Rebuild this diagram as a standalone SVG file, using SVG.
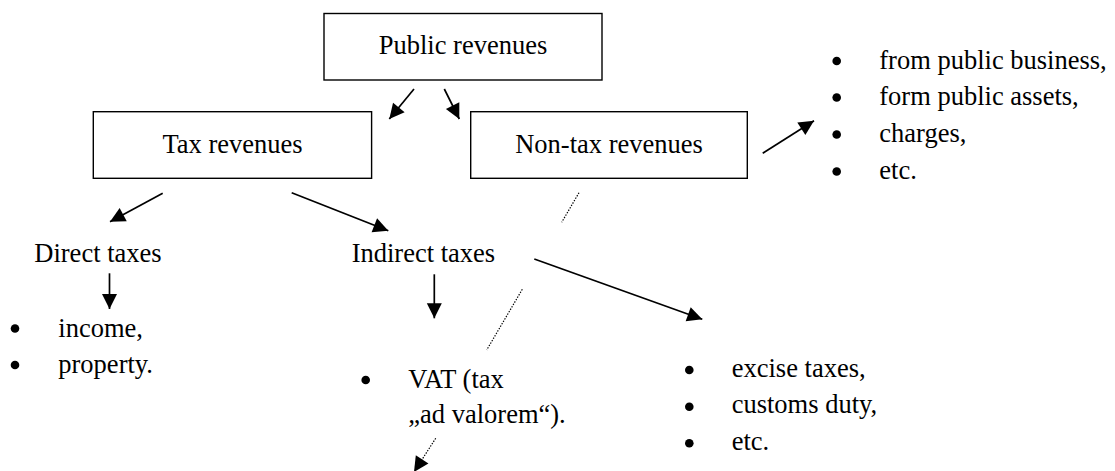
<svg xmlns="http://www.w3.org/2000/svg" width="1115" height="471" viewBox="0 0 1115 471">
<style>
text{font-family:"Liberation Serif","Times New Roman",serif;font-size:26.5px;fill:#000}
.box{fill:#fff;stroke:#000;stroke-width:1.4}
.c{text-anchor:middle}
.ar{stroke:#000;stroke-width:1.7;fill:none;marker-end:url(#ah)}
.dot{stroke:#000;stroke-width:1.2;fill:none;stroke-dasharray:1.4 1.4}
.dar{stroke:#000;stroke-width:1.2;fill:none;stroke-dasharray:1.4 1.4;marker-end:url(#ah)}
.b{fill:#000}
</style>
<defs>
<marker id="ah" markerUnits="userSpaceOnUse" markerWidth="16" markerHeight="16" refX="15" refY="7.5" orient="auto" overflow="visible">
<path d="M0,0 L15,7.5 L0,15 z" fill="#000"/>
</marker>
</defs>
<rect width="1115" height="471" fill="#fff"/>
<g id="connectors">
<line class="ar" x1="414" y1="89" x2="389.3" y2="119"/>
<line class="ar" x1="444.3" y1="89" x2="459.3" y2="119"/>
<line class="ar" x1="762.7" y1="153.3" x2="814" y2="120.7"/>
<line class="ar" x1="162.7" y1="193.3" x2="110" y2="221.7"/>
<line class="ar" x1="291.7" y1="192.7" x2="388.3" y2="230.7"/>
<line class="ar" x1="109.5" y1="273.3" x2="109.5" y2="309"/>
<line class="ar" x1="434.3" y1="274.3" x2="434.3" y2="318.3"/>
<line class="ar" x1="534.3" y1="259" x2="702.3" y2="319.3"/>
<line class="dot" x1="579" y1="192.7" x2="561.7" y2="222.3"/>
<line class="dot" x1="522.3" y1="289.3" x2="486.7" y2="350"/>
<line class="dar" x1="435.7" y1="438.3" x2="414" y2="472"/>
</g>
<g id="public-revenues">
<rect class="box" x="324" y="13.5" width="278" height="66.5"/>
<text class="c" x="463" y="54">Public revenues</text>
</g>
<g id="tax-revenues">
<rect class="box" x="93.3" y="111.7" width="278.3" height="66.6"/>
<text class="c" x="232.5" y="152.5">Tax revenues</text>
</g>
<g id="non-tax-revenues">
<rect class="box" x="470.7" y="111.7" width="276.6" height="66.6"/>
<text class="c" x="609" y="152.5">Non-tax revenues</text>
</g>
<g id="non-tax-list">
<circle class="b" cx="836.7" cy="61" r="4.3"/>
<text x="879.3" y="68.5">from public business,</text>
<circle class="b" cx="836.7" cy="97.5" r="4.3"/>
<text x="879.3" y="105">form public assets,</text>
<circle class="b" cx="836.7" cy="134.5" r="4.3"/>
<text x="879.3" y="142">charges,</text>
<circle class="b" cx="836.7" cy="171.5" r="4.3"/>
<text x="879.3" y="179">etc.</text>
</g>
<g id="direct-taxes">
<text x="34.3" y="262.3">Direct taxes</text>
</g>
<g id="direct-list">
<circle class="b" cx="15" cy="328.5" r="4.3"/>
<text x="58.3" y="336.7">income,</text>
<circle class="b" cx="15" cy="365" r="4.3"/>
<text x="58.3" y="373.3">property.</text>
</g>
<g id="indirect-taxes">
<text x="351.7" y="261.7">Indirect taxes</text>
</g>
<g id="vat">
<circle class="b" cx="365.7" cy="380" r="4.3"/>
<text x="408.3" y="388.3">VAT (tax</text>
<text x="408.3" y="423.3">„ad valorem“).</text>
</g>
<g id="excise-list">
<circle class="b" cx="689.3" cy="370" r="4.3"/>
<text x="731.7" y="376.7">excise taxes,</text>
<circle class="b" cx="689.3" cy="406.7" r="4.3"/>
<text x="731.7" y="413.3">customs duty,</text>
<circle class="b" cx="689.3" cy="443.3" r="4.3"/>
<text x="731.7" y="450">etc.</text>
</g>
</svg>
